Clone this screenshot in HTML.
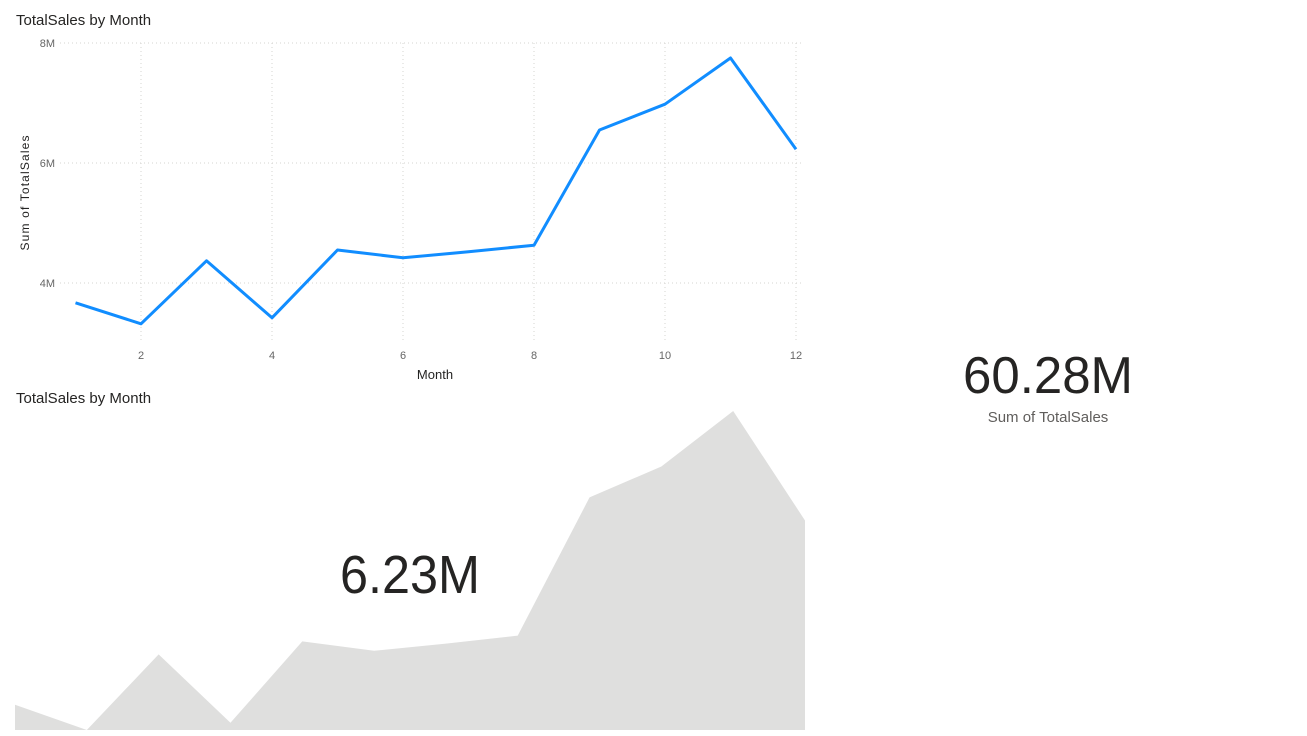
<!DOCTYPE html>
<html><head><meta charset="utf-8"><style>
body{margin:0;background:#fff;font-family:"Liberation Sans",sans-serif;}
svg{display:block}
</style></head><body>
<svg width="1307" height="736">
<text x="16" y="25" font-size="15" fill="#252423">TotalSales by Month</text>
<g id="grid"></g>
<g id="yt"></g>
<g id="xt"></g>
<text x="29" y="193" font-size="12" fill="#252423" text-anchor="middle" textLength="115" transform="rotate(-90 29 193)">Sum of TotalSales</text>
<text x="435" y="379" font-size="13" fill="#252423" text-anchor="middle">Month</text>
<path id="line" fill="none" stroke="#118DFF" stroke-width="3" stroke-linejoin="round"/>
<text x="16" y="403" font-size="15" fill="#252423">TotalSales by Month</text>
<path id="area" fill="#DFDFDE"/>
<text x="340" y="593" font-size="54" fill="#252423" textLength="140" lengthAdjust="spacingAndGlyphs">6.23M</text>
<text x="963" y="393" font-size="52" fill="#252423" textLength="170" lengthAdjust="spacingAndGlyphs">60.28M</text>
<text x="1048" y="422" font-size="15" fill="#605E5C" text-anchor="middle">Sum of TotalSales</text>
</svg>
<script>
const months=[1,2,3,4,5,6,7,8,9,10,11,12];
const sales=[3.67,3.32,4.37,3.42,4.55,4.42,4.52,4.63,6.55,6.98,7.75,6.23];
const yTicks=[4,6,8];
const xTicks=[2,4,6,8,10,12];
const NS="http://www.w3.org/2000/svg";
const X=m=>75.5+(m-1)*65.5;
const Y=v=>283-(v-4)*60;
function mk(t,a,p){const e=document.createElementNS(NS,t);for(const k in a)e.setAttribute(k,a[k]);p.appendChild(e);return e;}
const grid=document.getElementById('grid'),yt=document.getElementById('yt'),xt=document.getElementById('xt');
yTicks.forEach(v=>{
 const l=mk('line',{x1:60,x2:802,y1:Y(v),y2:Y(v),stroke:'#D6D4D2','stroke-dasharray':'1 3'},grid);
 
 
 const t=mk('text',{x:55,y:Y(v)+4,'font-size':11,fill:'#666','text-anchor':'end'},yt);t.textContent=v+'M';
 
 
});
xTicks.forEach(m=>{
 const l=mk('line',{x1:X(m),x2:X(m),y1:43,y2:340,stroke:'#D6D4D2','stroke-dasharray':'1 3'},grid);
 
 
 const t=mk('text',{x:X(m),y:359,'font-size':11,fill:'#666','text-anchor':'middle'},xt);t.textContent=m;
 
 
});
document.getElementById('line').setAttribute('d',months.map((m,i)=>(i?'L':'M')+X(m)+','+Y(sales[i])).join(''));
const mn=Math.min(...sales),mx=Math.max(...sales);
const AX=m=>15+(m-1)*790/11;
const AY=v=>730-(v-mn)/(mx-mn)*319;
document.getElementById('area').setAttribute('d','M15,730'+months.map((m,i)=>'L'+AX(m)+','+AY(sales[i])).join('')+'L805,730Z');
</script>
</body></html>
